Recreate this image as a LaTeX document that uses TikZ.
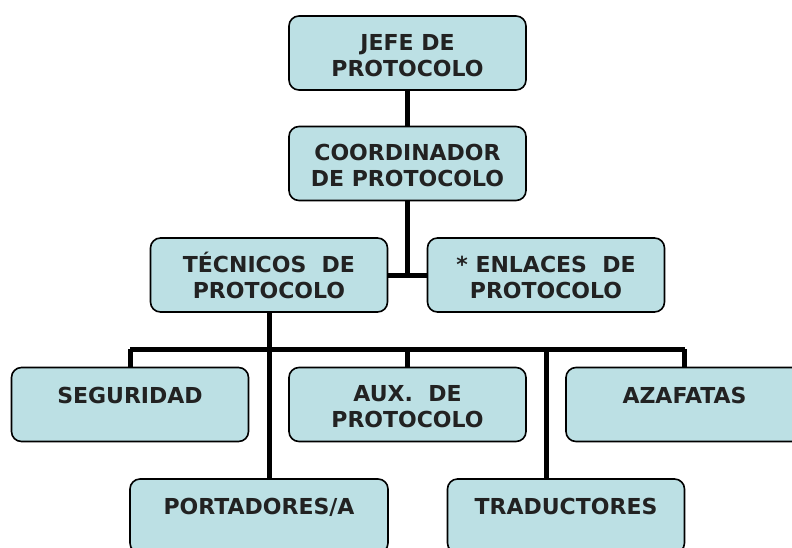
\documentclass[tikz,border=0pt]{standalone}
\usepackage{fontspec}
\setmainfont{DejaVu Sans}
\definecolor{cajazul}{RGB}{188,224,228}
\definecolor{texto}{RGB}{34,34,34}
\tikzset{
	caja/.style={draw=black, line width=1.6pt, fill=cajazul, rounded corners=10pt,
		minimum width=237pt, minimum height=74pt, align=center, text=texto,
		font=\fontsize{22}{26}\selectfont\bfseries,
		text height=50pt, text depth=4pt},
	cajauna/.style={caja, text height=15pt, text depth=18pt},
	linea/.style={line width=5pt}
}
\begin{document}
\begin{tikzpicture}[x=1pt, y=-1pt, line join=round]
	\useasboundingbox (0,0) rectangle (792,547);
	% Cajas superiores
	\node[caja] (jefe) at (407.5,53) {JEFE DE\\PROTOCOLO};
	\node[caja] (coord) at (407.5,163.5) {COORDINADOR\\DE PROTOCOLO};
	\node[caja] (tec) at (269,275) {TÉCNICOS~~DE\\PROTOCOLO};
	\node[caja] (enl) at (546,275) {* ENLACES~~DE\\PROTOCOLO};
	% Cajas inferiores
	\node[cajauna] (seg) at (130,404.5) {SEGURIDAD};
	\node[caja] (aux) at (407.5,404.5) {AUX.~~DE\\PROTOCOLO};
	\node[cajauna] (aza) at (684.5,404.5) {AZAFATAS};
	\node[cajauna, minimum width=258pt] (port) at (259,516) {PORTADORES/A};
	\node[cajauna] (trad) at (566,516) {TRADUCTORES};
	% Puntos de la barra horizontal
	\coordinate (bi) at (seg.north |- 0,349);
	\coordinate (bd) at (aza.north |- 0,349);
	\coordinate (bt) at (enl.center |- 0,349);
	% Conectores
	\draw[linea] (jefe) -- (coord);
	\draw[linea] (coord.south) -- (coord.south |- tec.east);
	\draw[linea] (tec.east) -- (enl.west);
	\draw[linea] (tec.south) -- (tec.south |- port.north);
	\draw[linea] (bi) -- (bd);
	\draw[linea] (bi) -- (seg.north);
	\draw[linea] (aux.north |- bi) -- (aux.north);
	\draw[linea] (bd) -- (aza.north);
	\draw[linea] (bt) -- (bt |- trad.north);
\end{tikzpicture}
\end{document}
